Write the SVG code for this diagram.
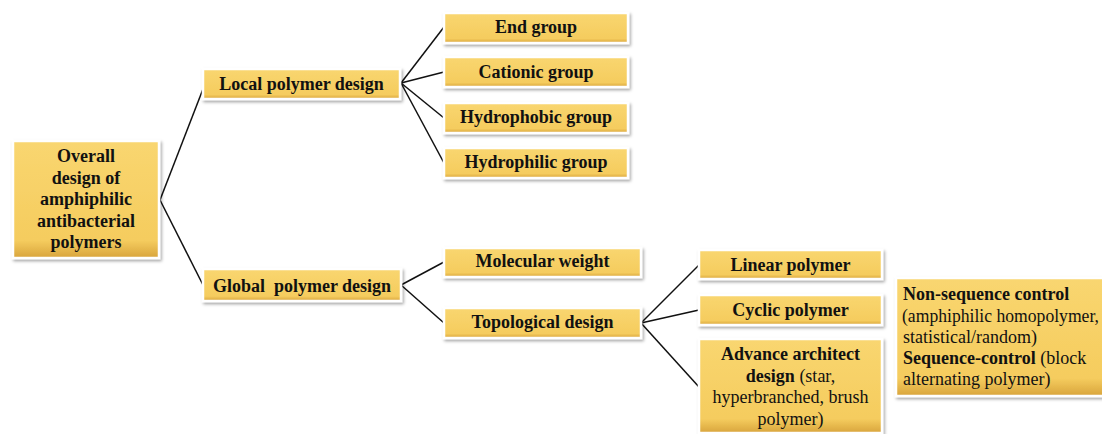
<svg xmlns="http://www.w3.org/2000/svg" width="1102" height="434" viewBox="0 0 1102 434">
<defs>
<linearGradient id="gold" x1="0" y1="0" x2="0" y2="1">
<stop offset="0" stop-color="#F9D670"/>
<stop offset="0.85" stop-color="#F5CC5E"/>
<stop offset="1" stop-color="#D8A43C"/>
</linearGradient>
<filter id="sh" x="-10%" y="-20%" width="120%" height="150%">
<feDropShadow dx="1.5" dy="2" stdDeviation="1.8" flood-color="#000" flood-opacity="0.35"/>
</filter>
<style>
.box{fill:url(#gold);stroke:#fff;stroke-width:2.5;filter:url(#sh)}
.t text{font-size:18px;fill:#111}
.b{font-weight:bold}
.c{text-anchor:middle}
.conn line{stroke:#111;stroke-width:1.5}
</style>
</defs>
<rect width="1102" height="434" fill="#fff"/>
<g class="conn" id="connectors">
<line x1="160" y1="200" x2="203" y2="89"/>
<line x1="160" y1="200" x2="203" y2="285"/>
<line x1="401" y1="83" x2="444" y2="27"/>
<line x1="401" y1="83" x2="444" y2="72"/>
<line x1="401" y1="83" x2="444" y2="118"/>
<line x1="401" y1="83" x2="444" y2="163"/>
<line x1="401" y1="285" x2="444" y2="262"/>
<line x1="401" y1="285" x2="444" y2="323"/>
<line x1="641" y1="323" x2="699" y2="265"/>
<line x1="641" y1="323" x2="699" y2="310"/>
<line x1="641" y1="323" x2="699" y2="387"/>
</g>
<g class="t" font-family="'Liberation Serif', 'Times New Roman', serif">
<g id="overall">
<rect class="box" x="13" y="141" width="146" height="117"/>
<text class="b c" x="86" y="162">Overall</text>
<text class="b c" x="86" y="183.5">design of</text>
<text class="b c" x="86" y="205">amphiphilic</text>
<text class="b c" x="86" y="226.5">antibacterial</text>
<text class="b c" x="86" y="248">polymers</text>
</g>
<g id="local">
<rect class="box" x="203" y="69" width="197" height="30"/>
<text class="b c" x="301.5" y="90">Local polymer design</text>
</g>
<g id="global">
<rect class="box" x="203" y="269" width="198" height="32"/>
<text class="b c" x="302" y="292" xml:space="preserve">Global  polymer design</text>
</g>
<g id="endgroup">
<rect class="box" x="444" y="13" width="184" height="30"/>
<text class="b c" x="536" y="33">End group</text>
</g>
<g id="cationic">
<rect class="box" x="444" y="57" width="184" height="30"/>
<text class="b c" x="536" y="78">Cationic group</text>
</g>
<g id="hydrophobic">
<rect class="box" x="444" y="103" width="184" height="30"/>
<text class="b c" x="536" y="123">Hydrophobic group</text>
</g>
<g id="hydrophilic">
<rect class="box" x="444" y="148" width="184" height="30"/>
<text class="b c" x="536" y="168">Hydrophilic group</text>
</g>
<g id="molecular">
<rect class="box" x="444" y="248" width="197" height="29"/>
<text class="b c" x="542.5" y="267">Molecular weight</text>
</g>
<g id="topological">
<rect class="box" x="444" y="308" width="197" height="30"/>
<text class="b c" x="542.5" y="328">Topological design</text>
</g>
<g id="linear">
<rect class="box" x="699" y="250" width="183" height="29"/>
<text class="b c" x="790.5" y="271">Linear polymer</text>
</g>
<g id="cyclic">
<rect class="box" x="699" y="295" width="183" height="30"/>
<text class="b c" x="790.5" y="316">Cyclic polymer</text>
</g>
<g id="advance">
<rect class="box" x="699" y="339" width="183" height="94"/>
<text class="b c" x="790.5" y="360">Advance architect</text>
<text class="c" x="790.5" y="382"><tspan class="b">design</tspan> (star,</text>
<text class="c" x="790.5" y="403">hyperbranched, brush</text>
<text class="c" x="790.5" y="425">polymer)</text>
</g>
<g id="sequence">
<rect class="box" x="896" y="278" width="220" height="118"/>
<text class="b" x="903" y="300">Non-sequence control</text>
<text x="902" y="322" textLength="197" lengthAdjust="spacingAndGlyphs">(amphiphilic homopolymer,</text>
<text x="903" y="343">statistical/random)</text>
<text x="903" y="364"><tspan class="b">Sequence-control</tspan> (block</text>
<text x="903" y="385">alternating polymer)</text>
</g>
</g>
</svg>
